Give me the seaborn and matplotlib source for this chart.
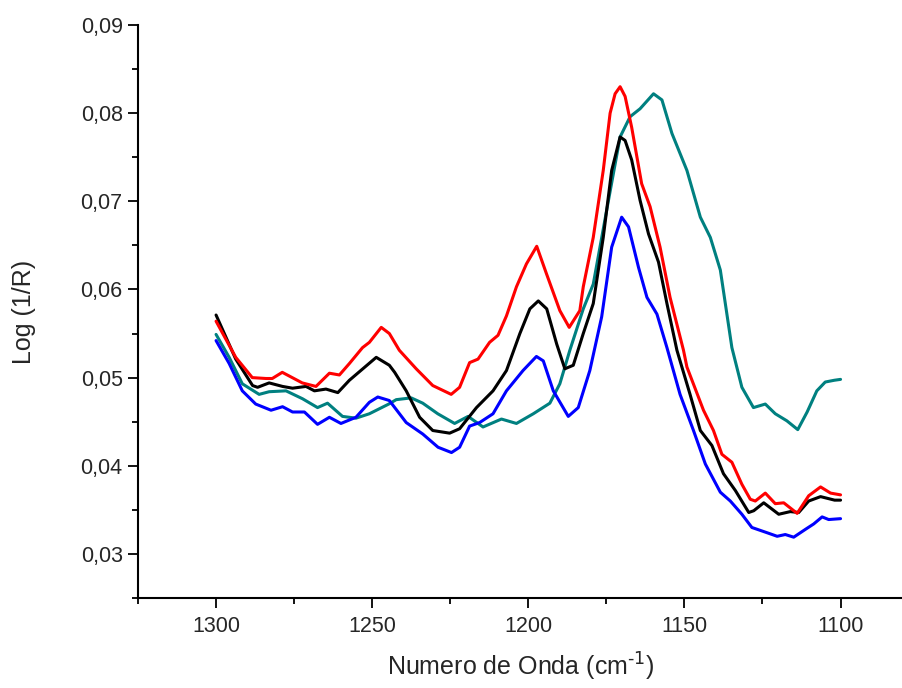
import seaborn as sns
import matplotlib.pyplot as plt
import matplotlib.ticker as mticker
import pandas as pd

# values
red_x = [1300, 1293.7, 1288.4, 1284, 1282, 1278.8, 1275.6, 1272.4, 1268, 1263.7, 1260.5, 1257.3,
         1253.1, 1250.9, 1247.1, 1244.5, 1241.3, 1235.9, 1230.6, 1224.7, 1222, 1218.8, 1216.1,
         1212.4, 1209.7, 1207, 1203.8, 1200.6, 1197.3, 1194.2, 1189.9, 1186.9, 1183.5, 1182.4,
         1179.2, 1176.0, 1173.8, 1172.2, 1170.6, 1169.0, 1166.9, 1163.7, 1161.0, 1157.8, 1154.6,
         1150.3, 1149.2, 1143.9, 1140.7, 1138.0, 1134.8, 1131.6, 1128.9, 1127.3, 1124.1, 1120.9,
         1118.2, 1113.9, 1110.2, 1106.4, 1103.2, 1100]
red_y = [0.0564, 0.0523, 0.0500, 0.0499, 0.0499, 0.0506, 0.0500, 0.0494, 0.0490, 0.0505, 0.0503,
         0.0516, 0.0534, 0.0540, 0.0557, 0.0550, 0.0531, 0.0510, 0.0491, 0.0481, 0.0489, 0.0517,
         0.0521, 0.0540, 0.0548, 0.0570, 0.0603, 0.0629, 0.0649, 0.0618, 0.0576, 0.0557, 0.0576,
         0.0603, 0.0659, 0.0735, 0.0800, 0.0822, 0.0830, 0.0819, 0.0784, 0.0720, 0.0694, 0.0648,
         0.0591, 0.0531, 0.0512, 0.0463, 0.0440, 0.0413, 0.0404, 0.0379, 0.0362, 0.0360, 0.0369,
         0.0357, 0.0358, 0.0346, 0.0366, 0.0376, 0.0369, 0.0367]

black_x = [1300, 1293.7, 1288.3, 1286.7, 1283, 1278.7, 1275.5, 1271.2, 1268.5, 1264.8, 1261,
           1257.3, 1253, 1248.7, 1244.5, 1242.8, 1239.1, 1234.8, 1230.6, 1225.2, 1222, 1216.6,
           1211.3, 1207, 1202.7, 1199.5, 1196.8, 1194.1, 1190.9, 1188.3, 1185.6, 1182.4, 1179.2,
           1176, 1173.3, 1170.6, 1169, 1166.9, 1164.2, 1161.5, 1158.3, 1155.6, 1152.4, 1151.4,
           1148.2, 1144.9, 1141.2, 1137.5, 1133.7, 1129.4, 1127.8, 1124.6, 1119.8, 1116.1, 1113.4,
           1110.2, 1106.4, 1101.9, 1100]
black_y = [0.0571, 0.0521, 0.0491, 0.0489, 0.0494, 0.0490, 0.0488, 0.0490, 0.0485, 0.0487,
           0.0483, 0.0497, 0.0510, 0.0523, 0.0514, 0.0506, 0.0485, 0.0455, 0.0440, 0.0437,
           0.0442, 0.0466, 0.0485, 0.0508, 0.0550, 0.0578, 0.0587, 0.0578, 0.0538, 0.0510,
           0.0514, 0.0550, 0.0584, 0.0659, 0.0735, 0.0773, 0.0769, 0.0747, 0.0701, 0.0663,
           0.0631, 0.0584, 0.0531, 0.0519, 0.0481, 0.0440, 0.0423, 0.0391, 0.0372, 0.0347,
           0.0349, 0.0358, 0.0345, 0.0348, 0.0347, 0.0360, 0.0365, 0.0361, 0.0361]

blue_x = [1300, 1295.8, 1291.6, 1287.3, 1282.4, 1278.7, 1275.5, 1271.7, 1267.5, 1263.7, 1260,
          1255.2, 1250.9, 1248.2, 1244.5, 1239.1, 1233.8, 1228.9, 1224.6, 1222, 1218.8, 1215.6,
          1211.3, 1207, 1201.7, 1197.4, 1195.2, 1192, 1187.2, 1184, 1180.3, 1176.5, 1173.3,
          1170.1, 1167.9, 1164.7, 1162, 1158.8, 1155.6, 1151.4, 1147.1, 1143.3, 1138.5, 1135.3,
          1131.6, 1128.4, 1123.5, 1120.3, 1117.7, 1115, 1111.2, 1108.6, 1105.9, 1103.8, 1100]
blue_y = [0.0542, 0.0516, 0.0485, 0.0470, 0.0463, 0.0467, 0.0461, 0.0461, 0.0447, 0.0455,
          0.0448, 0.0455, 0.0472, 0.0478, 0.0474, 0.0449, 0.0436, 0.0421, 0.0415, 0.0421,
          0.0445, 0.0449, 0.0459, 0.0485, 0.0508, 0.0524, 0.0519, 0.0485, 0.0456, 0.0466,
          0.0508, 0.0569, 0.0648, 0.0682, 0.0671, 0.0625, 0.0591, 0.0572, 0.0534, 0.0481,
          0.0440, 0.0402, 0.0370, 0.0360, 0.0345, 0.0330, 0.0324, 0.0320, 0.0322, 0.0319,
          0.0328, 0.0334, 0.0342, 0.0339, 0.0340]

teal_x = [1300, 1295.8, 1291.6, 1286.2, 1283, 1277.6, 1272.3, 1267.5, 1264.3, 1259.5, 1255.2,
          1250.9, 1244.7, 1242.3, 1237.5, 1233.8, 1229, 1223.6, 1219.3, 1214.5, 1208.6, 1203.8,
          1198.4, 1193.1, 1189.9, 1186.7, 1182.4, 1179.2, 1174.9, 1170.6, 1167.4, 1164.2,
          1159.9, 1157.2, 1154, 1149.2, 1144.9, 1141.7, 1138.5, 1134.8, 1131.6, 1127.9, 1124.1,
          1120.9, 1117.2, 1113.7, 1110.7, 1107.6, 1104.9, 1102, 1100]
teal_y = [0.0549, 0.0523, 0.0493, 0.0481, 0.0484, 0.0485, 0.0476, 0.0466, 0.0471, 0.0456,
          0.0454, 0.0459, 0.0470, 0.0475, 0.0477, 0.0471, 0.0459, 0.0448, 0.0456, 0.0444,
          0.0453, 0.0448, 0.0459, 0.0471, 0.0493, 0.0531, 0.0578, 0.0606, 0.0690, 0.0773,
          0.0796, 0.0805, 0.0822, 0.0815, 0.0777, 0.0735, 0.0682, 0.0659, 0.0622, 0.0534,
          0.0489, 0.0466, 0.0470, 0.0459, 0.0451, 0.0441, 0.0461, 0.0485, 0.0495, 0.0497, 0.0498]

colors = {'teal': '#008080', 'blue': '#0000ff', 'black': '#000000', 'red': '#ff0000'}

frames = []
for name, xs, ys in [('teal', teal_x, teal_y), ('blue', blue_x, blue_y),
                     ('black', black_x, black_y), ('red', red_x, red_y)]:
    frames.append(pd.DataFrame({'x': xs, 'y': ys, 'serie': name}))
spectra = pd.concat(frames, ignore_index=True)

sns.set_style('ticks')
plt.rcParams['font.family'] = ['Liberation Sans', 'DejaVu Sans']
plt.rcParams['mathtext.default'] = 'regular'

fig = plt.figure(figsize=(9.03, 6.88), dpi=100)
ax = fig.add_axes([138 / 903, 90 / 688, 1 - 138 / 903, (598 - 25) / 688])

sns.lineplot(data=spectra, x='x', y='y', hue='serie', palette=colors, estimator=None,
             sort=False, linewidth=2.2, legend=False, ax=ax)

ax.set_xlim(1325, 1080)
ax.set_ylim(0.025, 0.09)
ax.xaxis.set_major_locator(mticker.MultipleLocator(50))
ax.xaxis.set_minor_locator(mticker.MultipleLocator(25))
ax.yaxis.set_major_locator(mticker.MultipleLocator(0.01))
ax.yaxis.set_minor_locator(mticker.MultipleLocator(0.005))
ax.yaxis.set_major_formatter(mticker.FuncFormatter(lambda v, p: f'{v:.2f}'.replace('.', ',')))
ax.tick_params(which='major', direction='out', length=7, width=1.3, labelsize=15.5, color='black')
ax.tick_params(which='minor', direction='out', length=4, width=1.3, color='black')
ax.tick_params(axis='x', pad=6)
ax.tick_params(axis='y', pad=4)
for s in ['left', 'bottom']:
    ax.spines[s].set_linewidth(1.5)
    ax.spines[s].set_color('black')
sns.despine(ax=ax)

ax.set_xlabel('Numero de Onda (cm$^{\\text{-1}}$)', fontsize=18, labelpad=10)
ax.set_ylabel('Log (1/R)', fontsize=18, labelpad=32)

plt.savefig('out.png', dpi=100)
